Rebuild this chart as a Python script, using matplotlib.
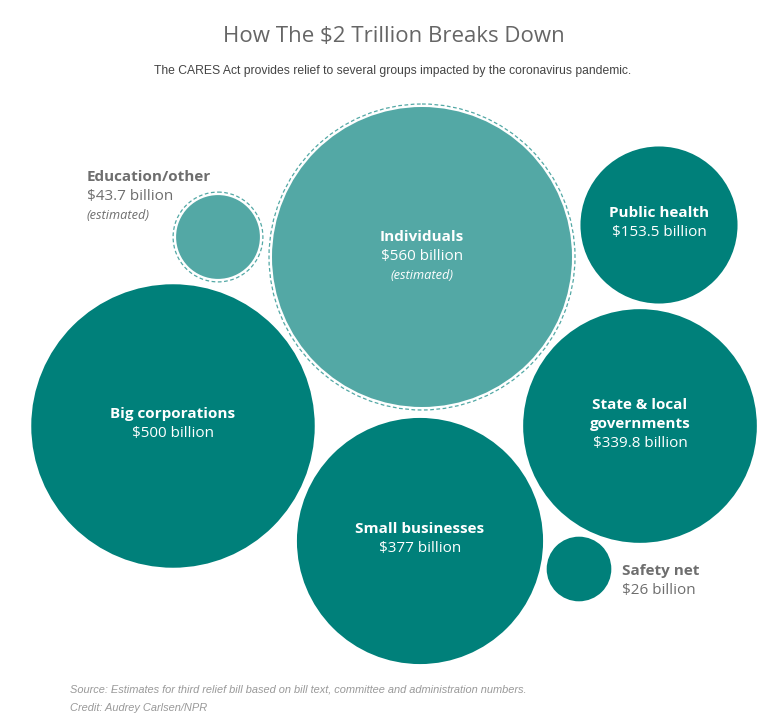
import matplotlib
matplotlib.use('Agg')
import matplotlib.pyplot as plt
from matplotlib.patches import Circle
import numpy as np

# data, in billions of dollars
groups = ['Individuals', 'Big corporations', 'Small businesses',
          'State & local\ngovernments', 'Public health', 'Education/other', 'Safety net']
amounts = [560, 500, 377, 339.8, 153.5, 43.7, 26]
amount_labels = ['$560 billion', '$500 billion', '$377 billion', '$339.8 billion',
                 '$153.5 billion', '$43.7 billion', '$26 billion']
estimated = [True, False, False, False, False, True, False]

# layout of the packed bubbles (pixel coords, y down)
centers = [(422, 257), (173, 426), (420, 541), (640, 426), (659, 225), (218, 237), (579, 569)]
label_outside = {'Education/other': (87, 177), 'Safety net': (622, 571)}

dark = '#00807a'
light = '#53a8a5'
gray = '#6e6e6e'
font = 'Open Sans'

W, H = 765, 719
fig = plt.figure(figsize=(W / 100, H / 100), dpi=100)
ax = fig.add_axes([0, 0, 1, 1])
ax.set_xlim(0, W)
ax.set_ylim(H, 0)
ax.set_aspect('equal')
ax.axis('off')

scale = 150 / np.sqrt(560)  # px radius per sqrt(billion)
lh = 19.3

for name, amt, lab, est, (cx, cy) in zip(groups, amounts, amount_labels, estimated, centers):
    r = scale * np.sqrt(amt)
    col = light if est else dark
    ax.add_patch(Circle((cx, cy), r, facecolor=col, edgecolor='none'))
    if est:
        ax.add_patch(Circle((cx, cy), r + 3, fill=False, edgecolor=light,
                            linewidth=0.9, linestyle=(0, (3, 2))))
    n = name.count('\n') + 1
    if name in label_outside:
        x, y = label_outside[name]
        ha, tc = 'left', gray
    else:
        x, ha, tc = cx, 'center', 'white'
        if est:
            y = cy - 20
        elif n == 2:
            y = cy - 21
        else:
            y = cy - 12
    for i, line in enumerate(name.split('\n')):
        ax.text(x, y + i * lh, line, ha=ha, va='center', color=tc,
                fontsize=11, fontweight='bold', family=font)
    y2 = y + n * lh
    ax.text(x, y2, lab, ha=ha, va='center', color=tc, fontsize=11, family=font)
    if est:
        ax.text(x, y2 + lh, '(estimated)', ha=ha, va='center', color=tc,
                fontsize=9.2, style='italic', family=font)

ax.text(394, 36, 'How The $2 Trillion Breaks Down', ha='center', va='center',
        fontsize=16, color='#666666', family=font)
ax.text(393, 71, 'The CARES Act provides relief to several groups impacted by the coronavirus pandemic.',
        ha='center', va='center', fontsize=8.7, color='#444444', family='Liberation Sans')
ax.text(70, 689, 'Source: Estimates for third relief bill based on bill text, committee and administration numbers.',
        ha='left', va='center', fontsize=7.9, color='#999999', style='italic', family='Liberation Sans')
ax.text(70, 708, 'Credit: Audrey Carlsen/NPR',
        ha='left', va='center', fontsize=7.9, color='#999999', style='italic', family='Liberation Sans')

fig.savefig('out.png', dpi=100, facecolor='white')
